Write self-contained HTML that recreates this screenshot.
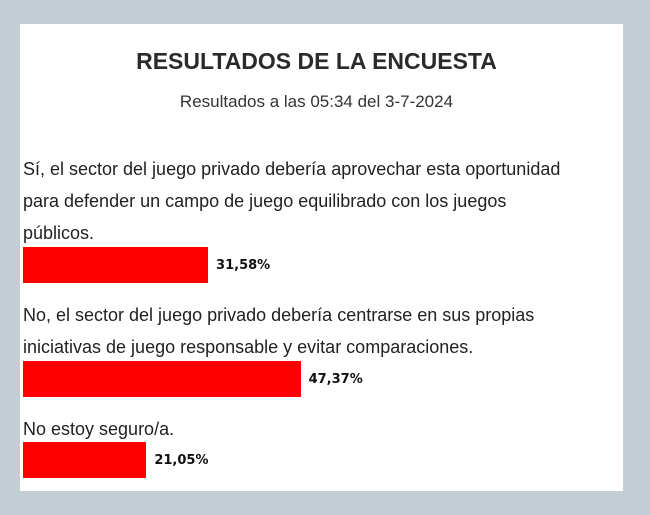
<!DOCTYPE html>
<html><head><meta charset="utf-8"><style>
body{margin:0;width:650px;height:515px;background:#c3ced5;position:relative;overflow:hidden;font-family:"Liberation Sans",sans-serif;}
#panel{position:absolute;left:20px;top:24px;width:603px;height:467px;background:#fff;}
.t{position:absolute;white-space:nowrap;color:#222;}
.q{font-size:18px;color:#222;left:3px;}
.bar{position:absolute;left:3px;background:#ff0000;}
.lbl{position:absolute;font-size:13px;font-weight:bold;color:#111;font-family:"DejaVu Sans",sans-serif;}
</style></head><body>
<div id="panel">
<div class="t" style="left:0;width:593px;text-align:center;top:24px;font-size:23px;font-weight:bold;color:#2a2a2a;">RESULTADOS DE LA ENCUESTA</div>
<div class="t" style="left:0;width:593px;text-align:center;top:68px;font-size:17px;color:#333;">Resultados a las 05:34 del 3-7-2024</div>
<div class="t q" style="top:129px;line-height:32px;">Sí, el sector del juego privado debería aprovechar esta oportunidad<br>para defender un campo de juego equilibrado con los juegos<br>públicos.</div>
<div class="t q" style="top:275px;line-height:32px;">No, el sector del juego privado debería centrarse en sus propias<br>iniciativas de juego responsable y evitar comparaciones.</div>
<div class="t q" style="top:389px;line-height:32px;">No estoy seguro/a.</div>
<div id="bars"></div>
</div>
<script>
const options=["Sí","No","No estoy seguro/a"];
const values=[31.58,47.37,21.05];
const barTops=[223,337,418];
const pxPerPct=5.86;
const host=document.getElementById('bars');
values.forEach((v,i)=>{
  const b=document.createElement('div');
  
  
  b.className='bar';
  const w=v*pxPerPct;
  b.style.top=barTops[i]+'px';b.style.width=w+'px';b.style.height='36px';
  host.appendChild(b);
  const l=document.createElement('div');
  
  
  l.className='lbl';
  l.textContent=v.toFixed(2).replace('.',',')+'%';
  l.style.left=(3+w+8)+'px';l.style.top=(barTops[i]+11)+'px';
  host.appendChild(l);
});
</script>
</body></html>
